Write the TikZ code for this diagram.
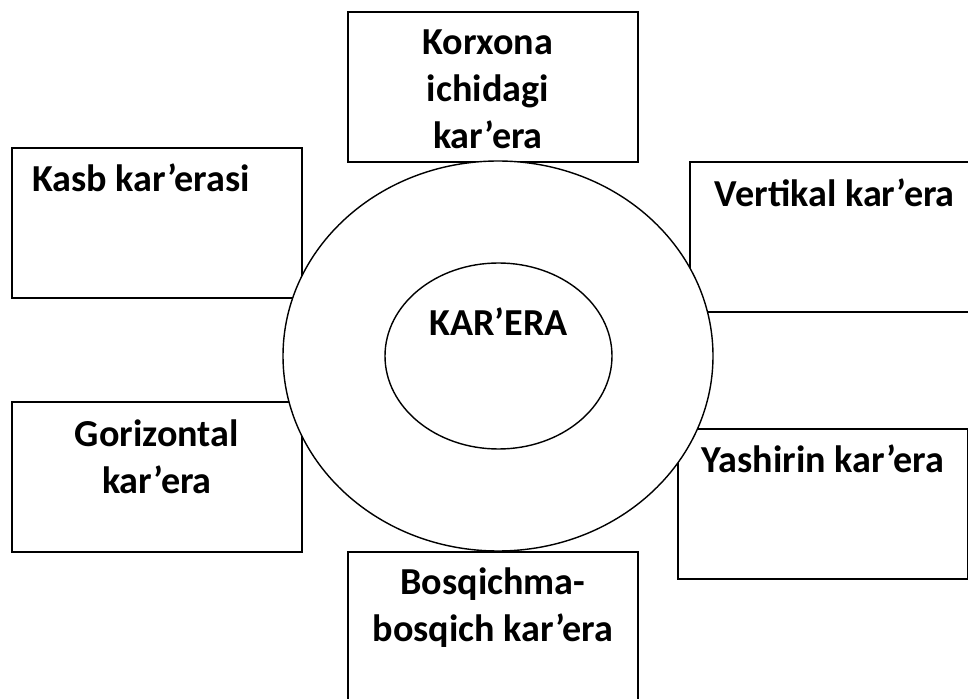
\documentclass[tikz,border=0pt]{standalone}
\usepackage{fontspec}
\setmainfont{Carlito}
\usetikzlibrary{positioning,shapes.geometric}

\begin{document}
\begin{tikzpicture}[font=\bfseries\fontsize{21.7}{26.5}\selectfont]
\tikzstyle{box}=[draw,line width=1pt,fill=white,anchor=north west,minimum width=5.8cm,minimum height=3cm,inner sep=0pt]
\tikzstyle{txt}=[anchor=base,text width=5.8cm,align=flush center,inner sep=0pt]
\clip (0,0) rectangle (19.36,-13.98);
% the six boxes round the circle
\node[box] (korx) at (6.94,-0.22) {};
\node[box] (kasb) at (0.22,-2.94) {};
\node[box] (vert) at (13.78,-3.22) {};
\node[box] (gori) at (0.22,-8.02) {};
\node[box] (yash) at (13.54,-8.56) {};
\node[box] (bosq) at (6.94,-11.02) {};
% circle on top of the boxes
\node[ellipse,draw,line width=0.8pt,fill=white,minimum width=8.6cm,minimum height=7.8cm] (outer) at (9.96,-7.12) {};
\node[ellipse,draw,line width=0.8pt,minimum width=4.54cm,minimum height=3.72cm] (inner) at (9.97,-7.12) {};
\node[anchor=base,inner sep=0pt] (kar) at ([yshift=0.4cm]inner.center) {KAR’ERA};
% texts
\node[txt] (korxt) at ([xshift=-0.1cm,yshift=-0.88cm]korx.north) {Korxona\\ichidagi\\kar’era};
\node[anchor=base west,inner sep=0pt] (kasbt) at ([xshift=0.42cm,yshift=-0.9cm]kasb.north west) {Kasb kar’erasi};
\node[txt] (vertt) at ([yshift=-0.92cm]vert.north) {Vertikal kar’era};
\node[txt] (gorit) at ([yshift=-0.92cm]gori.north) {Gorizontal\\kar’era};
\node[txt] (yasht) at ([yshift=-0.9cm]yash.north) {Yashirin kar’era};
\node[txt] (bosqt) at ([yshift=-0.88cm]bosq.north) {Bosqichma-\\bosqich kar’era};
\end{tikzpicture}
\end{document}
